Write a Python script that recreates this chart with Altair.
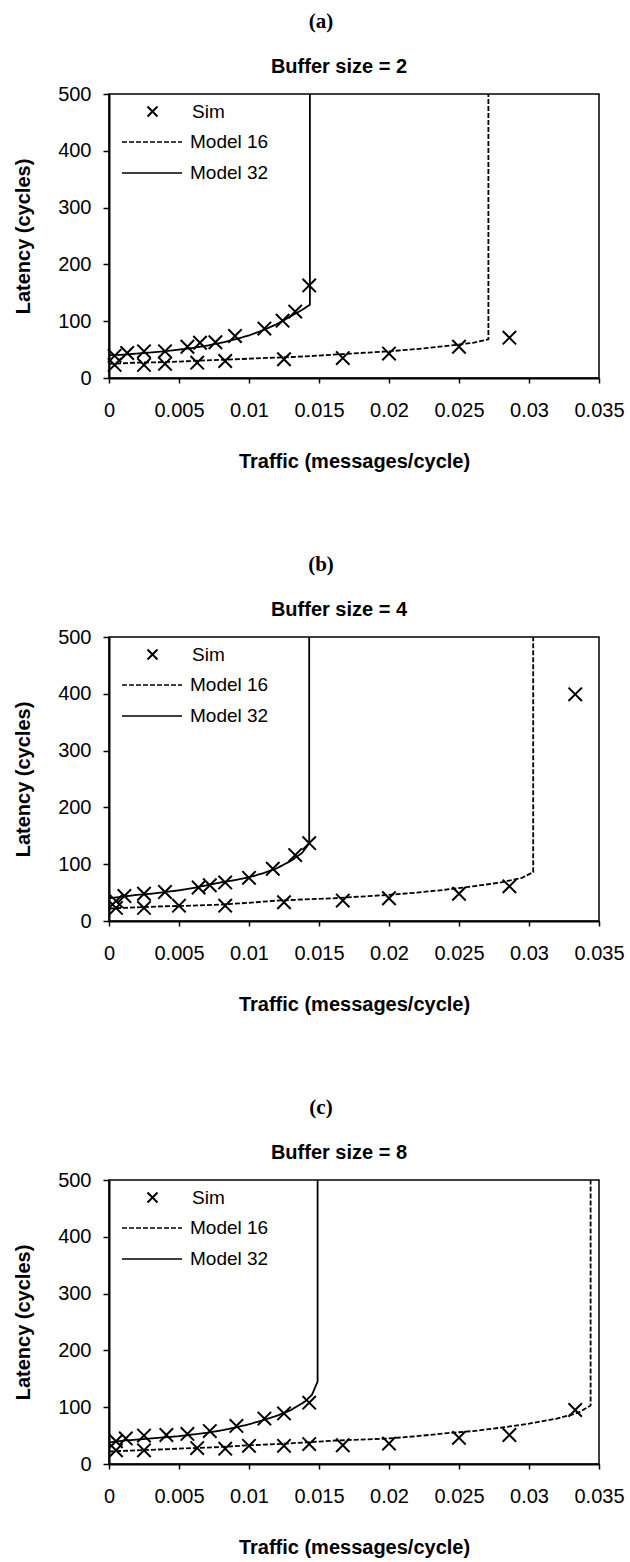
import altair as alt
import pandas as pd

FONT = "Liberation Sans"
SERIF = "Liberation Serif"
X_PATH = "M-1,-1L1,1M1,-1L-1,1"
LINE_PATH = "M-3,0H3"

# ---------- Panel (a): Buffer size = 2 ----------
a_sim_x = [0.0004, 0.0013, 0.0025, 0.004, 0.0056, 0.0065, 0.0076, 0.009, 0.0111, 0.0124, 0.0133, 0.0143,
           0.0004, 0.0025, 0.004, 0.0063, 0.0083, 0.0125, 0.0167, 0.02, 0.025, 0.0286]
a_sim_y = [39, 44, 47, 47, 55, 62, 63, 74, 87, 101, 117, 163,
           23, 23, 25, 27, 30, 33, 35, 43, 55, 71]
a_m16_x = [0, 0.002, 0.004, 0.006, 0.008, 0.010, 0.012, 0.014, 0.016, 0.018, 0.020, 0.022, 0.024, 0.026, 0.0271, 0.0271]
a_m16_y = [25, 27, 28, 30, 32, 34, 36, 38, 41, 44, 47, 51, 56, 62, 68, 500]
a_m32_x = [0, 0.001, 0.002, 0.003, 0.004, 0.005, 0.006, 0.007, 0.008, 0.009, 0.010, 0.011, 0.012, 0.013, 0.0138, 0.01435, 0.01435]
a_m32_y = [40, 41, 43, 45, 47, 50, 53, 57, 62, 68, 75, 84, 95, 109, 120, 129, 500]

# ---------- Panel (b): Buffer size = 4 ----------
b_sim_x = [0.0005, 0.0011, 0.0025, 0.004, 0.0064, 0.0072, 0.0083, 0.010, 0.0117, 0.0133, 0.0143,
           0.0005, 0.0025, 0.005, 0.0083, 0.0125, 0.0167, 0.020, 0.025, 0.0286, 0.0333]
b_sim_y = [35, 44, 48, 51, 59, 63, 68, 76, 92, 116, 137,
           23, 23, 27, 27, 33, 36, 40, 48, 61, 399]
b_m16_x = [0, 0.002, 0.004, 0.006, 0.008, 0.010, 0.012, 0.014, 0.016, 0.018, 0.020, 0.022, 0.024, 0.026, 0.028, 0.0295, 0.0303, 0.0303]
b_m16_y = [22, 24, 26, 27, 29, 32, 36, 38, 40, 43, 46, 50, 55, 61, 68, 76, 86, 500]
b_m32_x = [0, 0.001, 0.002, 0.003, 0.004, 0.005, 0.006, 0.007, 0.008, 0.009, 0.010, 0.011, 0.012, 0.013, 0.0138, 0.0143, 0.0143]
b_m32_y = [40, 43, 46, 48, 51, 54, 58, 63, 68, 72, 77, 84, 93, 106, 120, 137, 500]

# ---------- Panel (c): Buffer size = 8 ----------
c_sim_x = [0.0005, 0.0012, 0.0025, 0.0041, 0.0056, 0.0072, 0.0091, 0.0111, 0.0125, 0.0143,
           0.0005, 0.0025, 0.0063, 0.0083, 0.010, 0.0125, 0.0143, 0.0167, 0.020, 0.025, 0.0286, 0.0333]
c_sim_y = [40, 45, 50, 51, 53, 58, 67, 80, 89, 108,
           24, 24, 28, 27, 32, 32, 35, 33, 36, 46, 51, 95]
c_m16_x = [0, 0.002, 0.004, 0.006, 0.008, 0.010, 0.012, 0.014, 0.016, 0.018, 0.020, 0.022, 0.024, 0.026, 0.028, 0.030, 0.032, 0.0335, 0.0344, 0.0344]
c_m16_y = [22, 24, 26, 28, 30, 33, 35, 38, 41, 43, 45, 49, 54, 58, 64, 71, 80, 90, 103, 500]
c_m32_x = [0, 0.001, 0.002, 0.003, 0.004, 0.005, 0.006, 0.007, 0.008, 0.009, 0.010, 0.011, 0.012, 0.013, 0.014, 0.0145, 0.0149, 0.0149]
c_m32_y = [38, 41, 43, 45, 47, 49, 52, 55, 59, 64, 70, 77, 85, 95, 110, 122, 145, 500]

x_ticks = [i * 0.0025 for i in range(15)]
y_ticks = list(range(0, 501, 50))


def panel(tag, title, sx, sy, x16, y16, x32, y32):
    sim = pd.DataFrame({"x": sx, "y": sy, "series": "Sim"})
    rows = []
    for name, xs, ys in (("Model 16", x16, y16), ("Model 32", x32, y32)):
        for i, (xv, yv) in enumerate(zip(xs, ys)):
            rows.append({"x": xv, "y": yv, "series": name, "i": i})
    model = pd.DataFrame(rows)

    xenc = alt.X(
        "x:Q",
        title="Traffic (messages/cycle)",
        scale=alt.Scale(domain=[0, 0.035], nice=False),
        axis=alt.Axis(
            values=x_ticks,
            labelExpr="round(datum.value*10000) % 50 == 0 ? format(datum.value, '~g') : ''",
            labelOverlap=False, labelFlush=False, tickSize=5, labelPadding=17,
            titlePadding=31,
        ),
    )
    yenc = alt.Y(
        "y:Q",
        title="Latency (cycles)",
        scale=alt.Scale(domain=[0, 500], nice=False),
        axis=alt.Axis(
            values=y_ticks,
            labelExpr="datum.value % 100 == 0 ? datum.label : ''",
            labelOverlap=False, labelFlush=False, tickSize=6, labelPadding=12,
            titlePadding=24,
        ),
    )

    lines = alt.Chart(model).mark_line(color="black", strokeWidth=1.8).encode(
        x=xenc,
        y=yenc,
        strokeDash=alt.StrokeDash(
            "series:N",
            scale=alt.Scale(domain=["Model 16", "Model 32"], range=[[5, 2], [1, 0]]),
            legend=alt.Legend(
                title=None, orient="none", legendX=32, legendY=37, padding=0,
                symbolType=LINE_PATH, symbolSize=400, symbolStrokeWidth=1.6,
                symbolStrokeColor="black", labelFont=FONT, labelFontSize=19,
                labelColor="black", labelOffset=27, rowPadding=10,
            ),
        ),
        order="i:Q",
    )

    points = alt.Chart(sim).mark_point(
        filled=False, color="black", strokeWidth=2, size=180, opacity=1
    ).encode(
        x="x:Q",
        y="y:Q",
        shape=alt.Shape(
            "series:N",
            scale=alt.Scale(domain=["Sim"], range=[X_PATH]),
            legend=alt.Legend(
                title=None, orient="none", legendX=34, legendY=8, padding=0,
                symbolSize=100, symbolStrokeWidth=2, symbolStrokeColor="black",
                symbolFillColor="transparent", symbolOpacity=1, labelFont=FONT,
                labelFontSize=19, labelColor="black", labelOffset=30,
            ),
        ),
    )

    sub_text = alt.Chart(pd.DataFrame({"t": [title]})).mark_text(
        font=FONT, fontWeight="bold", fontSize=20, color="black"
    ).encode(text="t:N", x=alt.value(230), y=alt.value(-27))

    return alt.layer(lines, points, sub_text).properties(
        width=490,
        height=284,
        title=alt.TitleParams(
            text=tag, font=SERIF, fontSize=21, fontWeight="bold", color="black",
            offset=25, dx=-33, anchor="middle", frame="group",
        ),
    )


chart = alt.vconcat(
    panel("(a)", "Buffer size = 2", a_sim_x, a_sim_y, a_m16_x, a_m16_y, a_m32_x, a_m32_y),
    panel("(b)", "Buffer size = 4", b_sim_x, b_sim_y, b_m16_x, b_m16_y, b_m32_x, b_m32_y),
    panel("(c)", "Buffer size = 8", c_sim_x, c_sim_y, c_m16_x, c_m16_y, c_m32_x, c_m32_y),
    spacing=81,
).resolve_legend(
    shape="independent", strokeDash="independent"
).properties(
    padding={"left": 12, "top": 10, "right": 0, "bottom": 0},
    background="white",
).configure_view(
    stroke="black", strokeWidth=1.5
).configure_axis(
    grid=False,
    domainColor="black", domainWidth=2,
    tickColor="black", tickWidth=1.5,
    labelColor="black", labelFont=FONT, labelFontSize=20,
    titleColor="black", titleFont=FONT, titleFontSize=20, titleFontWeight="bold",
)

chart.save("out.html", embed_options={"renderer": "svg", "actions": False})
